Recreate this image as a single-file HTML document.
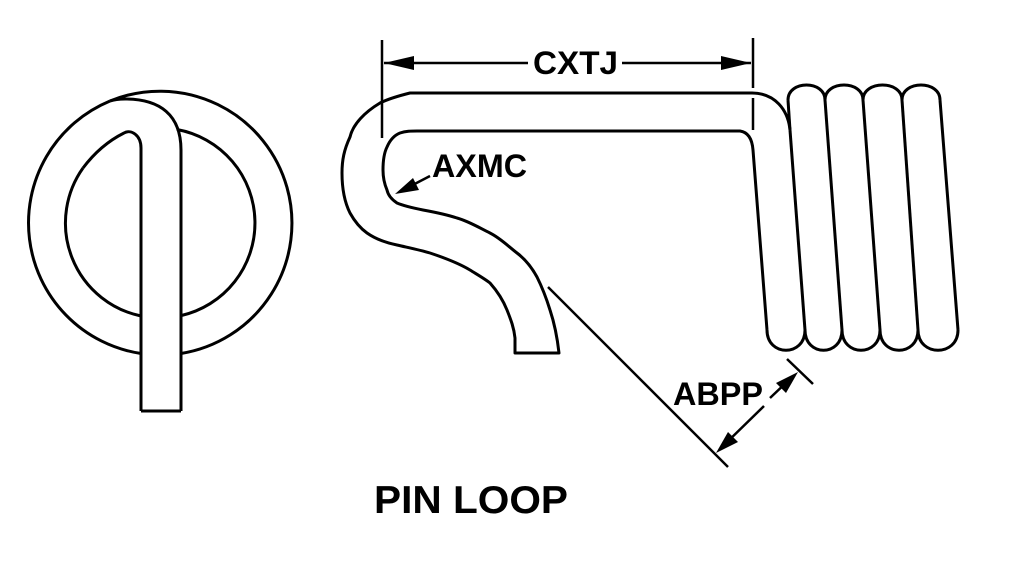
<!DOCTYPE html>
<html><head><meta charset="utf-8"><style>
html,body{margin:0;padding:0;background:#fff;}
svg{display:block;}
text{font-family:"Liberation Sans",sans-serif;font-weight:bold;fill:#000;}
</style></head><body>
<svg width="1014" height="568" viewBox="0 0 1014 568" xmlns="http://www.w3.org/2000/svg">
<g fill="none" stroke="#000" stroke-width="3" stroke-linejoin="round">
<!-- left view -->
<path d="M110,101 A132,132 0 1 1 181,353.5"/>
<path d="M141,353.5 A132,132 0 0 1 110,101"/>
<path d="M177,129.5 A95,95 0 0 1 181,315.6"/>
<path d="M141,316 A95,95 0 0 1 83,168"/>
<path d="M141,411 L141,148 C141,135 131,129 124,133 C110,140 95,152 83,168"/>
<path d="M181,411 L181,150 C181,115 160,99 125,99 C118,99 113,100 110,101"/>
<path d="M141,411 L181,411"/>
<!-- hook -->
<path d="M790,130 C788,110 775,93 752,93 L410,93 C398,96 388,99 380,103 C365,112 353,124 350,137 C344,150 342,160 342,173 C342,190 345,203 350,213 C355,222 360,228 367,233 C377,240 387,243 397,245 C410,248 420,250 430,253 C445,258 460,264 470,270 C478,275 485,279 490,283 C498,292 503,300 507,310 C511,320 514,328 515,338 L515,353 L559,353 C557,335 554,322 550,310 C546,297 542,287 537,277 C531,266 525,259 517,253 C508,246 500,238 490,233 C478,227 468,221 457,218 C445,214 434,212 423,210 C413,208 404,206 397,203 C391,199 388,195 387,190 C384,183 383,177 383,170 C383,160 384,153 387,147 C390,140 395,135 400,133 C406,131 411,131 417,131 L740,131 C747,132 752,137 753,150 L767,330"/>
<!-- coils -->
<path d="M790,130 L805,330"/>
<path d="M788,100 L790,130"/>
<path d="M825,100 L842,330"/>
<path d="M863,100 L880,330"/>
<path d="M902,100 L918,330"/>
<path d="M940,100 L958,330"/>
<path d="M788,100 C788,80 825,80 825,100 C825,80 863,80 863,100 C863,80 902,80 902,100 C902,80 940,80 940,100"/>
<path d="M767,330 C767,357 805,357 805,330 C805,357 842,357 842,330 C842,357 880,357 880,330 C880,357 918,357 918,330 C918,357 958,357 958,330"/>
</g>
<!-- dimensions -->
<g stroke="#000" stroke-width="2.5" fill="none">
<path d="M382,40 L382,138"/>
<path d="M753,38 L753,88 M753,98 L753,130"/>
<path d="M384,63 L528,63 M622,63 L751,63"/>
<path d="M430,176 L405,189"/>
<path d="M548,287 L728,467"/>
<path d="M787,359 L813,384"/>
<path d="M764,406 L722,447"/>
<path d="M770,398 L790,379"/>
</g>
<g fill="#000">
<polygon points="384,63 414,56 414,70"/>
<polygon points="751,63 721,56 721,70"/>
<polygon points="395,194 413,178 419,190"/>
<polygon points="716,453 728,432 738,442"/>
<polygon points="798,372 786,393 776,383"/>
</g>
<text x="533" y="74" font-size="32" textLength="85" lengthAdjust="spacingAndGlyphs">CXTJ</text>
<text x="432" y="177" font-size="32" textLength="95" lengthAdjust="spacingAndGlyphs">AXMC</text>
<text x="673" y="405" font-size="32" textLength="90" lengthAdjust="spacingAndGlyphs">ABPP</text>
<text x="374" y="513" font-size="39" textLength="194" lengthAdjust="spacingAndGlyphs">PIN LOOP</text>
</svg>
</body></html>
